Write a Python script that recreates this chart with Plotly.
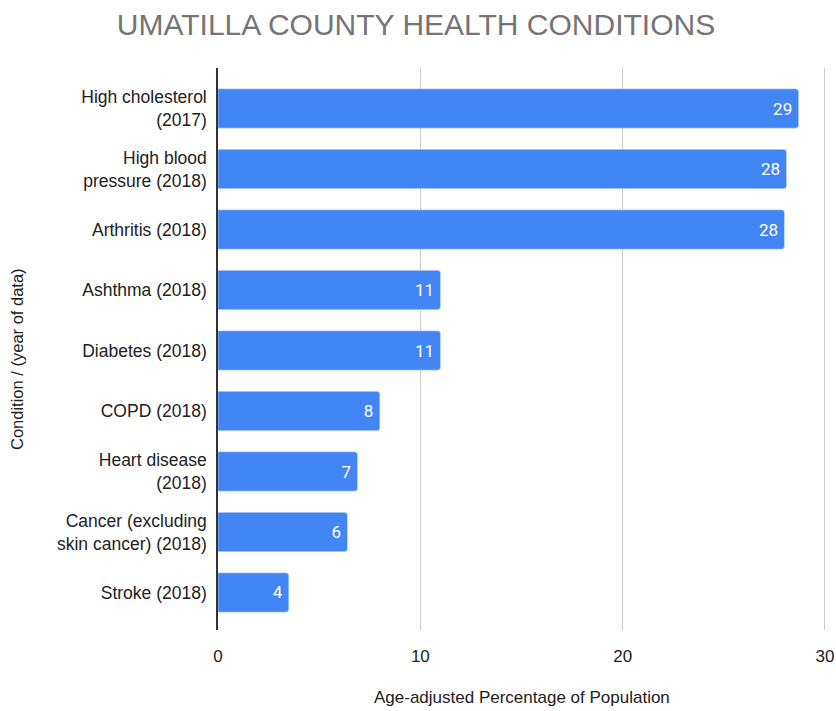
import plotly.graph_objects as go

categories = [
    "High cholesterol<br>(2017)",
    "High blood<br>pressure (2018)",
    "Arthritis (2018)",
    "Ashthma (2018)",
    "Diabetes (2018)",
    "COPD (2018)",
    "Heart disease<br>(2018)",
    "Cancer (excluding<br>skin cancer) (2018)",
    "Stroke (2018)",
]
values = [28.7, 28.1, 28.0, 11.0, 11.0, 8.0, 6.9, 6.4, 3.5]
labels = ["29", "28", "28", "11", "11", "8", "7", "6", "4"]
x_ticks = [0, 10, 20, 30]

FONT = "Liberation Sans, Arial"

fig = go.Figure(go.Bar(
    y=categories, x=values, orientation="h",
    marker=dict(color="#4285F4", cornerradius=3),
    text=labels, texttemplate="%{text}\u2009", textposition="inside", insidetextanchor="end",
    textfont=dict(color="white", size=17, family="Roboto"),
    hoverinfo="skip",
))

fig.update_layout(
    width=836, height=711,
    margin=dict(l=218, r=10, t=68, b=81),
    paper_bgcolor="white", plot_bgcolor="white",
    bargap=0.35,
    showlegend=False,
    title=dict(text="UMATILLA COUNTY HEALTH CONDITIONS", x=416/836, xanchor="center",
               y=1 - 24/711, yanchor="middle",
               font=dict(family=FONT, size=30, color="#757575")),
    font=dict(family=FONT, color="#222222"),
    annotations=[
        dict(text="Age-adjusted Percentage of Population", xref="paper", yref="paper",
             x=0.4995, y=-67/562, xanchor="center", yanchor="middle", showarrow=False,
             font=dict(family=FONT, size=17, color="#222222")),
        dict(text="Condition / (year of data)", xref="paper", yref="paper",
             x=-201/608, y=0.5 - 10/562, xanchor="center", yanchor="middle", showarrow=False,
             textangle=-90, font=dict(family=FONT, size=16.5, color="#222222")),
    ],
)
fig.update_xaxes(
    range=[0, 30.05], tickvals=x_ticks, ticktext=[str(t) for t in x_ticks],
    showgrid=True, gridcolor="#cccccc", gridwidth=1,
    zeroline=False, showline=False,
    tickfont=dict(size=17, color="#222222"),
    ticks="", ticklabelstandoff=14, automargin=False, ticklabeloverflow="allow",
)
fig.update_yaxes(
    type="category", categoryorder="array", categoryarray=categories,
    range=[8.62, -0.67],
    showgrid=False, showline=True, linecolor="#333333", linewidth=1.5,
    ticks="", ticklabelstandoff=6, automargin=False,
    tickfont=dict(size=17.5, color="#222222"),
)

fig.write_html(
    "out.html",
    config={"displayModeBar": False},
    post_script="document.body.style.margin='0';document.body.style.overflow='hidden';",
)
